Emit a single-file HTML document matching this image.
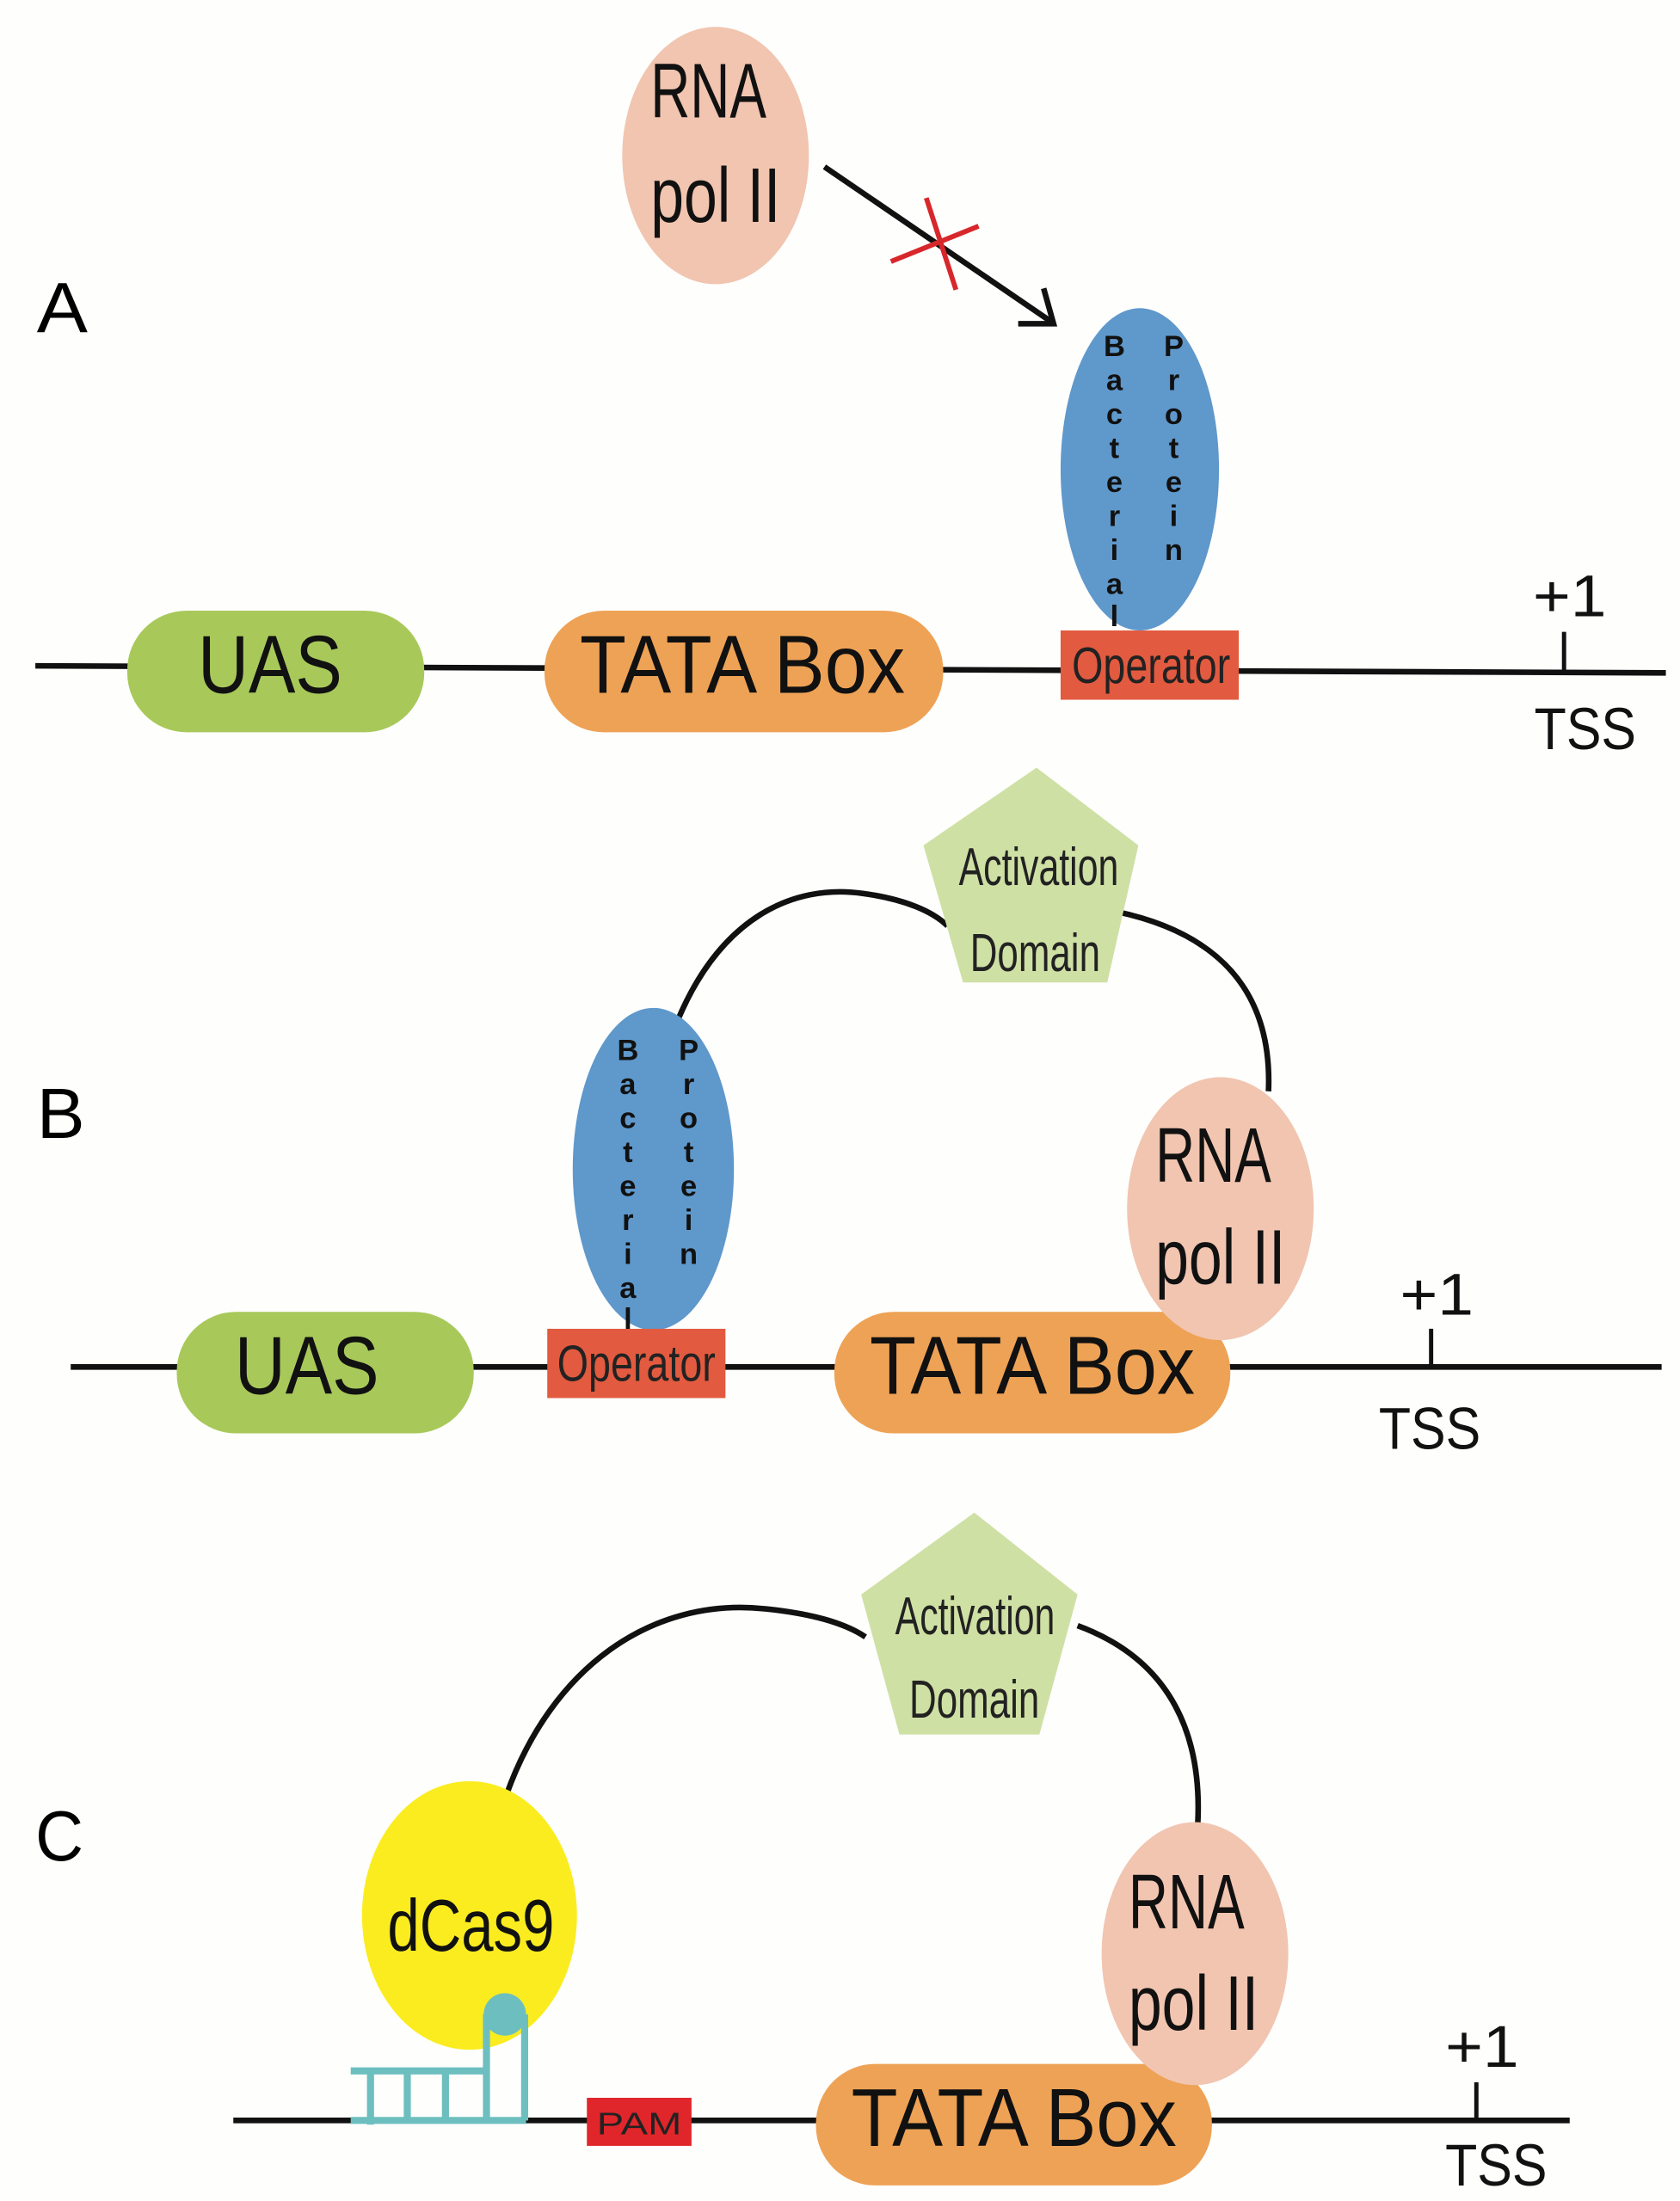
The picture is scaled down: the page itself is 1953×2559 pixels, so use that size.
<!DOCTYPE html>
<html><head><meta charset="utf-8"><style>html,body{margin:0;padding:0;background:#fefefd}svg{display:block}</style></head>
<body>
<svg width="1953" height="2559" viewBox="0 0 1188 1557" preserveAspectRatio="none" xmlns="http://www.w3.org/2000/svg" font-family="Liberation Sans, sans-serif">
<rect width="1188" height="1557" fill="#fefefd"/>
<defs>
<marker id="ah" viewBox="0 0 12 12" refX="10" refY="6" markerWidth="8" markerHeight="8" orient="auto" markerUnits="userSpaceOnUse">
</marker>
</defs>
<!-- PANEL A -->
<text x="26" y="235" font-size="50" textLength="36" lengthAdjust="spacingAndGlyphs">A</text>
<ellipse cx="506" cy="110" rx="66" ry="91" fill="#f1c5b0"/>
<text x="460" y="83" font-size="55" textLength="82" lengthAdjust="spacingAndGlyphs" fill="#111">RNA</text>
<text x="460" y="157" font-size="55" textLength="92" lengthAdjust="spacingAndGlyphs" fill="#111">pol II</text>
<line x1="583" y1="118" x2="744" y2="228" stroke="#111" stroke-width="4"/>
<polyline points="720,229 745,229 738,204" fill="none" stroke="#111" stroke-width="4"/>
<line x1="630" y1="185" x2="692" y2="160" stroke="#d8272a" stroke-width="3.5"/>
<line x1="655" y1="140" x2="676" y2="205" stroke="#d8272a" stroke-width="3.5"/>
<line x1="25" y1="471" x2="1178" y2="476" stroke="#111" stroke-width="4"/>
<rect x="90" y="432" width="210" height="86" rx="42" fill="#a8c95a"/>
<text x="140" y="490" font-size="58" textLength="102" lengthAdjust="spacingAndGlyphs" fill="#111">UAS</text>
<rect x="385" y="432" width="282" height="86" rx="42" fill="#eea255"/>
<text x="410" y="490" font-size="58" textLength="230" lengthAdjust="spacingAndGlyphs" fill="#111">TATA Box</text>
<ellipse cx="806" cy="332" rx="56" ry="114" fill="#5f98cb"/>
<rect x="750" y="446" width="126" height="49" fill="#e25a3f"/>
<text x="758" y="483" font-size="36" textLength="112" lengthAdjust="spacingAndGlyphs" fill="#222">Operator</text>
<g font-size="21" font-weight="bold" fill="#111" text-anchor="middle">
<text x="788" y="252">B</text><text x="788" y="276">a</text><text x="788" y="300">c</text><text x="788" y="324">t</text><text x="788" y="348">e</text><text x="788" y="372">r</text><text x="788" y="396">i</text><text x="788" y="420">a</text><text x="788" y="443">l</text>
<text x="830" y="252">P</text><text x="830" y="276">r</text><text x="830" y="300">o</text><text x="830" y="324">t</text><text x="830" y="348">e</text><text x="830" y="372">i</text><text x="830" y="396">n</text>
</g>
<line x1="1106" y1="447" x2="1106" y2="475" stroke="#111" stroke-width="3"/>
<text x="1084" y="436" font-size="42" textLength="52" lengthAdjust="spacingAndGlyphs" fill="#111">+1</text>
<text x="1085" y="530" font-size="42" textLength="72" lengthAdjust="spacingAndGlyphs" fill="#111">TSS</text>

<!-- PANEL B -->
<text x="26" y="805" font-size="50" textLength="34" lengthAdjust="spacingAndGlyphs">B</text>
<path d="M480,720 C510,650 560,625 610,632 C640,636 660,645 670,655" fill="none" stroke="#111" stroke-width="4"/>
<path d="M790,645 C860,660 900,700 897,772" fill="none" stroke="#111" stroke-width="4"/>
<polygon points="733,543 805,598 783,695 681,695 653,598" fill="#cfe0a4"/>
<text x="678" y="626" font-size="38" textLength="113" lengthAdjust="spacingAndGlyphs" fill="#222">Activation</text>
<text x="686" y="687" font-size="38" textLength="92" lengthAdjust="spacingAndGlyphs" fill="#222">Domain</text>
<line x1="50" y1="967" x2="1175" y2="967" stroke="#111" stroke-width="4"/>
<rect x="125" y="928" width="210" height="86" rx="42" fill="#a8c95a"/>
<text x="166" y="986" font-size="58" textLength="102" lengthAdjust="spacingAndGlyphs" fill="#111">UAS</text>
<ellipse cx="462" cy="827" rx="57" ry="114" fill="#5f98cb"/>
<rect x="387" y="940" width="126" height="49" fill="#e25a3f"/>
<text x="394" y="977" font-size="36" textLength="112" lengthAdjust="spacingAndGlyphs" fill="#222">Operator</text>
<g font-size="21" font-weight="bold" fill="#111" text-anchor="middle">
<text x="444" y="750">B</text><text x="444" y="774">a</text><text x="444" y="798">c</text><text x="444" y="822">t</text><text x="444" y="846">e</text><text x="444" y="870">r</text><text x="444" y="894">i</text><text x="444" y="918">a</text><text x="444" y="940">l</text>
<text x="487" y="750">P</text><text x="487" y="774">r</text><text x="487" y="798">o</text><text x="487" y="822">t</text><text x="487" y="846">e</text><text x="487" y="870">i</text><text x="487" y="894">n</text>
</g>
<rect x="590" y="928" width="280" height="86" rx="42" fill="#eea255"/>
<ellipse cx="863" cy="855" rx="66" ry="93" fill="#f1c5b0"/>
<text x="615" y="986" font-size="58" textLength="230" lengthAdjust="spacingAndGlyphs" fill="#111">TATA Box</text>
<text x="817" y="836" font-size="55" textLength="82" lengthAdjust="spacingAndGlyphs" fill="#111">RNA</text>
<text x="817" y="908" font-size="55" textLength="92" lengthAdjust="spacingAndGlyphs" fill="#111">pol II</text>
<line x1="1012" y1="940" x2="1012" y2="967" stroke="#111" stroke-width="3"/>
<text x="990" y="930" font-size="42" textLength="52" lengthAdjust="spacingAndGlyphs" fill="#111">+1</text>
<text x="975" y="1025" font-size="42" textLength="72" lengthAdjust="spacingAndGlyphs" fill="#111">TSS</text>

<!-- PANEL C -->
<text x="25" y="1316" font-size="50" textLength="34" lengthAdjust="spacingAndGlyphs">C</text>
<path d="M358,1270 C390,1180 460,1130 540,1138 C580,1142 600,1150 612,1158" fill="none" stroke="#111" stroke-width="4"/>
<path d="M762,1150 C830,1175 850,1230 847,1290" fill="none" stroke="#111" stroke-width="4"/>
<polygon points="689,1070 762,1128 735,1227 636,1227 609,1128" fill="#cfe0a4"/>
<text x="633" y="1156" font-size="38" textLength="113" lengthAdjust="spacingAndGlyphs" fill="#222">Activation</text>
<text x="643" y="1215" font-size="38" textLength="92" lengthAdjust="spacingAndGlyphs" fill="#222">Domain</text>
<line x1="165" y1="1500" x2="1110" y2="1500" stroke="#111" stroke-width="4"/>
<ellipse cx="332" cy="1355" rx="76" ry="95" fill="#fbec1f"/>
<text x="274" y="1380" font-size="52" textLength="118" lengthAdjust="spacingAndGlyphs" fill="#111">dCas9</text>
<g stroke="#6dbfbf" stroke-width="5" fill="none">
<line x1="248" y1="1465" x2="345" y2="1465"/>
<line x1="248" y1="1500" x2="372" y2="1500"/>
<line x1="262" y1="1465" x2="262" y2="1503"/>
<line x1="288" y1="1465" x2="288" y2="1500"/>
<line x1="315" y1="1465" x2="315" y2="1500"/>
<line x1="344" y1="1425" x2="344" y2="1500"/>
<line x1="371" y1="1425" x2="371" y2="1500"/>
</g>
<circle cx="357" cy="1425" r="15" fill="#6dbfbf"/>
<rect x="415" y="1484" width="74" height="34" fill="#e0262a"/>
<text x="422" y="1510" font-size="22" textLength="60" lengthAdjust="spacingAndGlyphs" fill="#222">PAM</text>
<rect x="577" y="1460" width="280" height="86" rx="42" fill="#eea255"/>
<ellipse cx="845" cy="1382" rx="66" ry="93" fill="#f1c5b0"/>
<text x="602" y="1518" font-size="58" textLength="230" lengthAdjust="spacingAndGlyphs" fill="#111">TATA Box</text>
<text x="798" y="1364" font-size="55" textLength="82" lengthAdjust="spacingAndGlyphs" fill="#111">RNA</text>
<text x="798" y="1436" font-size="55" textLength="92" lengthAdjust="spacingAndGlyphs" fill="#111">pol II</text>
<line x1="1044" y1="1473" x2="1044" y2="1500" stroke="#111" stroke-width="3"/>
<text x="1022" y="1462" font-size="42" textLength="52" lengthAdjust="spacingAndGlyphs" fill="#111">+1</text>
<text x="1022" y="1546" font-size="42" textLength="72" lengthAdjust="spacingAndGlyphs" fill="#111">TSS</text>
</svg>
</body></html>
